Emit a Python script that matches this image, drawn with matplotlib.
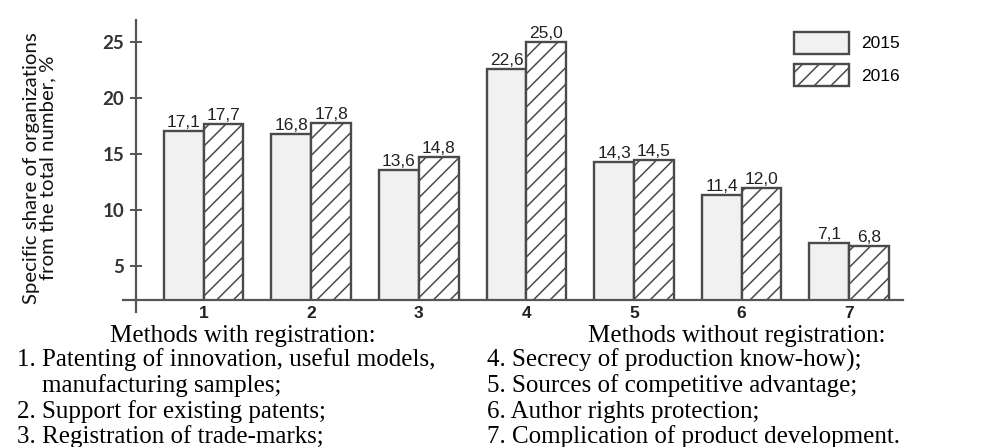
import numpy as np
import matplotlib.pyplot as plt

# data
methods = ['1', '2', '3', '4', '5', '6', '7']
share_2015 = [17.1, 16.8, 13.6, 22.6, 14.3, 11.4, 7.1]
share_2016 = [17.7, 17.8, 14.8, 25.0, 14.5, 12.0, 6.8]
years = ['2015', '2016']
y_ticks = [5, 10, 15, 20, 25]

ylabel = 'Specific share of organizations\nfrom the total number, %'
left_title = 'Methods with registration:'
left_items = ['1. Patenting of innovation, useful models,',
              '    manufacturing samples;',
              '2. Support for existing patents;',
              '3. Registration of trade-marks;']
right_title = 'Methods without registration:'
right_items = ['4. Secrecy of production know-how);',
               '5. Sources of competitive advantage;',
               '6. Author rights protection;',
               '7. Complication of product development.']

W, H = 985, 447
edge = '#4a4a4a'
sans = 'Liberation Sans'
serif = 'Liberation Serif'
calib = 'Lato'

plt.rcParams['hatch.linewidth'] = 1.1
plt.rcParams['hatch.color'] = edge

fig = plt.figure(figsize=(W / 100, H / 100), dpi=100)
ax = fig.add_axes([123 / W, 1 - 300 / H, 780 / W, 280 / H])

x = np.arange(1, len(methods) + 1)
bw = 0.37
b1 = ax.bar(x - bw / 2, share_2015, bw, color='#f1f1f1',
            edgecolor=edge, linewidth=1.7, label=years[0])
b2 = ax.bar(x + bw / 2, share_2016, bw, color='white',
            edgecolor=edge, linewidth=1.7, hatch='//', label=years[1])

fmt = lambda v: f'{v:.1f}'.replace('.', ',')
for bars, vals in ((b1, share_2015), (b2, share_2016)):
    for r, v in zip(bars, vals):
        ax.text(r.get_x() + r.get_width() / 2, v + 0.1, fmt(v),
                ha='center', va='bottom', fontsize=12.5, family=sans,
                color='#222222')

ax.set_xlim(0.25, 7.5)
ax.set_ylim(2, 27)
for s in ['top', 'right']:
    ax.spines[s].set_visible(False)
ax.spines['left'].set_position(('data', 0.37))
for s in ['left', 'bottom']:
    ax.spines[s].set_color('#555555')
    ax.spines[s].set_linewidth(1.6)
# left axis pokes a little below the x axis
ax.plot([0.37, 0.37], [0.9, 2], color='#555555', lw=1.6, clip_on=False)

ax.set_yticks(y_ticks)
ax.set_yticklabels([str(t) for t in y_ticks], fontsize=13.5, family=calib,
                   fontweight='bold', color='#333333')
ax.tick_params(axis='y', direction='inout', length=9, width=1.4,
               color='#555555', pad=4)
ax.set_xticks(x)
ax.set_xticklabels(methods, fontsize=12.5, family=sans, fontweight='bold',
                   color='#222222')
ax.tick_params(axis='x', length=0, pad=4)

ax.legend(loc='upper left', bbox_to_anchor=(785 / W, 1 - 23 / H),
          bbox_transform=fig.transFigure, frameon=False,
          prop={'family': sans, 'size': 12.5}, handlelength=3.2,
          handleheight=1.56, labelspacing=0.6, handletextpad=0.7,
          borderpad=0)

fig.text(40 / W, 1 - 168 / H, ylabel, rotation=90, ha='center',
         va='center', multialignment='center', fontsize=14.7, family=calib,
         color='#111111', linespacing=0.95)

line_y = [360, 386, 412, 437]
fs = 18
fig.text(243 / W, 1 - 336 / H, left_title, ha='center', va='center',
         fontsize=fs, family=serif)
fig.text(737 / W, 1 - 336 / H, right_title, ha='center', va='center',
         fontsize=fs, family=serif)
for yy, t in zip(line_y, left_items):
    fig.text(17 / W, 1 - yy / H, t, ha='left', va='center', fontsize=fs,
             family=serif)
for yy, t in zip(line_y, right_items):
    fig.text(487 / W, 1 - yy / H, t, ha='left', va='center', fontsize=fs,
             family=serif)

fig.savefig('out.png', dpi=100)
